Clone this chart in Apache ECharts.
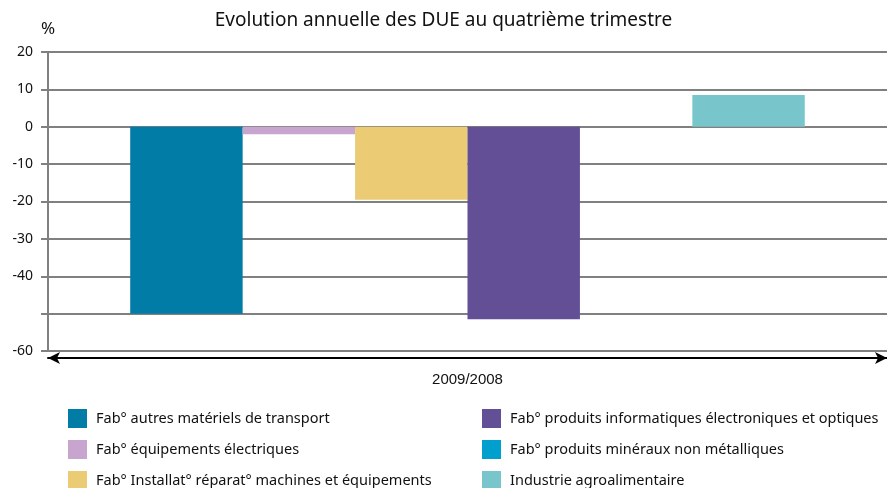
<!DOCTYPE html>
<html>
<head>
<meta charset="utf-8">
<script src="https://cdn.jsdelivr.net/npm/echarts@6/dist/echarts.min.js"></script>
<style>
  html, body { margin: 0; padding: 0; background: #fff; }
  #chart { width: 887px; height: 488px; }
</style>
</head>
<body>
<div id="chart"></div>
<script>
// données
var categories = ['2009/2008'];
var seriesNames = [
    'Fab° autres matériels de transport',
    'Fab° équipements électriques',
    'Fab° Installat° réparat° machines et équipements',
    'Fab° produits informatiques électroniques et optiques',
    'Fab° produits minéraux non métalliques',
    'Industrie agroalimentaire'
];
var transportValues = [-50];
var electriqueValues = [-2];
var machinesValues = [-19.5];
var informatiqueValues = [-51.5];
var mineralValues = [0];
var agroValues = [8.5];
var colors = ['#007ca6', '#c8a5cf', '#ebcc75', '#634f95', '#009fce', '#78c6cc'];
var hiddenTick = -50;

var allValues = [transportValues, electriqueValues, machinesValues, informatiqueValues, mineralValues, agroValues];

var font = 'Noto Sans';
var myChart = echarts.init(document.getElementById('chart'));

var series = allValues.map(function (vals, i) {
    return {
        name: seriesNames[i],
        type: 'bar',
        data: vals,
        barGap: '0%',
        barCategoryGap: '19.6%',
        itemStyle: { color: colors[i] }
    };
});

var legendBase = {
    orient: 'vertical',
    top: 409,
    height: 120,
    padding: 0,
    itemWidth: 19,
    itemHeight: 19,
    itemGap: 12,
    icon: 'rect',
    textStyle: { fontFamily: font, fontSize: 14.5, color: '#111', padding: [0, 0, 0, 4] }
};

var option = {
    animation: false,
    title: {
        text: 'Evolution annuelle des DUE au quatrième trimestre',
        left: 'center',
        top: 6,
        textStyle: { fontFamily: font, fontSize: 19, fontWeight: 'normal', color: '#111' }
    },
    legend: [
        Object.assign({}, legendBase, { left: 68, data: seriesNames.slice(0, 3) }),
        Object.assign({}, legendBase, { left: 482, data: seriesNames.slice(3, 6) })
    ],
    graphic: [{
        type: 'text',
        left: 41,
        top: 21,
        style: { text: '%', fontFamily: font, fontSize: 17, fill: '#111' }
    }],
    grid: { left: 48, right: 0, top: 52, bottom: 137 },
    xAxis: {
        type: 'category',
        data: categories,
        offset: 7,
        axisLine: {
            show: true,
            onZero: false,
            symbol: ['arrow', 'arrow'],
            symbolSize: [9, 12],
            lineStyle: { color: '#000', width: 2 }
        },
        axisTick: { show: false },
        axisLabel: { margin: 14, fontFamily: 'Liberation Sans', fontSize: 15, color: '#111' }
    },
    yAxis: {
        type: 'value',
        min: -60,
        max: 20,
        interval: 10,
        axisLine: { show: true, lineStyle: { color: '#808080', width: 2 } },
        axisTick: { show: true, length: 7, lineStyle: { color: '#808080', width: 2 } },
        splitLine: { show: true, lineStyle: { color: '#808080', width: 2 } },
        axisLabel: {
            margin: 15,
            fontFamily: font,
            fontSize: 14,
            color: '#111',
            formatter: function (v) { return v === hiddenTick ? '' : v; }
        }
    },
    series: series
};
myChart.setOption(option);
</script>
</body>
</html>
